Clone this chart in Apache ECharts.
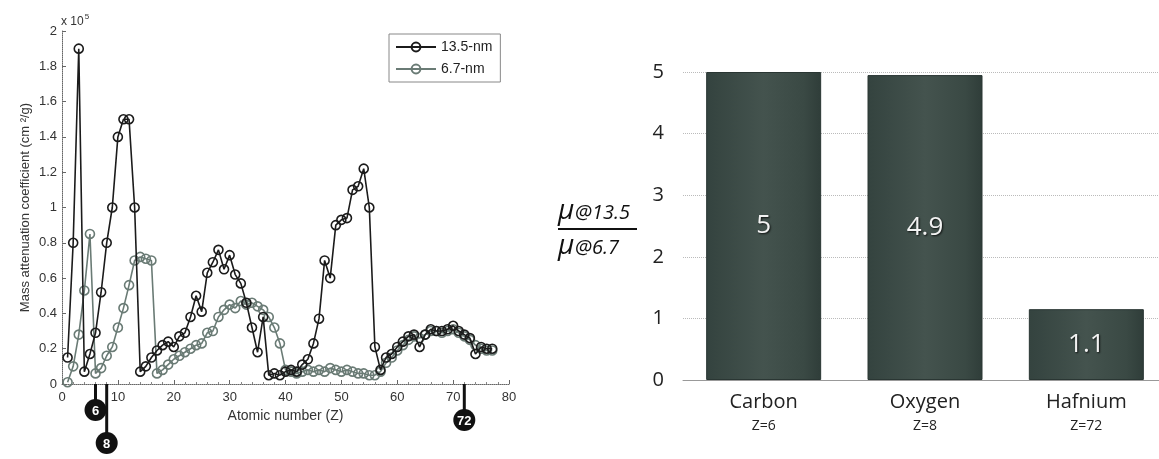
<!DOCTYPE html>
<html>
<head>
<meta charset="utf-8">
<script src="https://cdn.jsdelivr.net/npm/echarts@6/dist/echarts.min.js"></script>
<style>
html,body{margin:0;padding:0;background:#fff;overflow:hidden;}
#chart{width:1175px;height:459px;}
</style>
</head>
<body>
<div id="chart"></div>
<script>
// ---- Data ----
const atomicZ = [1,2,3,4,5,6,7,8,9,10,11,12,13,14,15,16,17,18,19,20,21,22,23,24,25,26,27,28,29,30,31,32,33,34,35,36,37,38,39,40,41,42,43,44,45,46,47,48,49,50,51,52,53,54,55,56,57,58,59,60,61,62,63,64,65,66,67,68,69,70,71,72,73,74,75,76,77];
// mass attenuation coefficient, units of 1e5 cm^2/g
const mu135 = [0.15,0.80,1.90,0.07,0.17,0.29,0.52,0.80,1.00,1.40,1.50,1.50,1.00,0.07,0.10,0.15,0.19,0.22,0.24,0.21,0.27,0.29,0.38,0.50,0.41,0.63,0.69,0.76,0.65,0.73,0.62,0.57,0.46,0.32,0.18,0.38,0.05,0.06,0.05,0.07,0.08,0.07,0.11,0.14,0.23,0.37,0.70,0.60,0.90,0.93,0.94,1.10,1.12,1.22,1.00,0.21,0.08,0.15,0.17,0.21,0.24,0.27,0.28,0.21,0.28,0.31,0.30,0.30,0.31,0.33,0.30,0.28,0.26,0.17,0.21,0.20,0.20];
const mu67 = [0.01,0.10,0.28,0.53,0.85,0.06,0.09,0.16,0.21,0.32,0.43,0.56,0.70,0.72,0.71,0.70,0.06,0.08,0.11,0.14,0.16,0.18,0.20,0.22,0.23,0.29,0.30,0.38,0.42,0.45,0.43,0.47,0.45,0.46,0.44,0.42,0.38,0.32,0.23,0.08,0.07,0.06,0.07,0.08,0.07,0.08,0.07,0.09,0.08,0.07,0.08,0.07,0.06,0.06,0.05,0.05,0.07,0.12,0.15,0.19,0.22,0.25,0.27,0.26,0.28,0.30,0.30,0.29,0.30,0.31,0.29,0.27,0.25,0.22,0.20,0.19,0.19];
const seriesNames = ['13.5-nm','6.7-nm'];
const markerZ = [6, 8, 72];

const elements = ['Carbon','Oxygen','Hafnium'];
const elementZ = ['Z=6','Z=8','Z=72'];
const ratio = [5.0, 4.95, 1.15];
const ratioLabels = ['5','4.9','1.1'];

// ---- Styles (not data) ----
const markerDrop = [26, 59, 36];
const FONT_L = 'Liberation Sans';
const FONT_R = 'Open Sans';

const chart = echarts.init(document.getElementById('chart'), null, {renderer:'canvas'});

const pairs = (xs, ys) => xs.map((x,i)=>[x, ys[i]]);

const option = {
  animation: false,
  backgroundColor: '#fff',
  grid: [
    {left: 62, top: 31, width: 447, height: 353},
    {left: 683, top: 72, width: 484, height: 308}
  ],
  legend: {
    data: seriesNames,
    orient: 'vertical',
    left: 389, top: 34,
    width: 113,
    padding: [6, 8, 6, 6],
    itemGap: 8,
    itemWidth: 40, itemHeight: 11,
    borderColor: '#888', borderWidth: 1,
    textStyle: {fontFamily: FONT_L, fontSize: 14, color: '#222'}
  },
  xAxis: [
    {
      gridIndex: 0, type: 'value', min: 0, max: 80, interval: 10,
      name: 'Atomic number (Z)', nameLocation: 'middle', nameGap: 21,
      nameTextStyle: {fontFamily: FONT_L, fontSize: 14, color: '#333'},
      axisLine: {lineStyle: {color: '#666', type: 'dotted', width: 1}},
      axisTick: {inside: true, length: 4, lineStyle: {color: '#666'}},
      minorTick: {show: true, splitNumber: 5, length: 2, lineStyle: {color: '#888'}},
      axisLabel: {fontFamily: FONT_L, fontSize: 13, color: '#333', margin: 7},
      splitLine: {show: false}
    },
    {
      gridIndex: 1, type: 'category', data: elements,
      axisLine: {lineStyle: {color: '#999', width: 1}},
      axisTick: {show: false},
      axisLabel: {
        margin: 10, interval: 0,
        formatter: (v, i) => '{a|' + v + '}\n{b|' + elementZ[i] + '}',
        rich: {
          a: {fontFamily: FONT_R, fontSize: 20, color: '#222', lineHeight: 25},
          b: {fontFamily: FONT_R, fontSize: 14, color: '#222', lineHeight: 22}
        }
      }
    }
  ],
  yAxis: [
    {
      gridIndex: 0, type: 'value', min: 0, max: 2, interval: 0.2,
      name: 'Mass attenuation coefficient (cm \u00B2/g)', nameLocation: 'middle', nameGap: 30,
      nameTextStyle: {fontFamily: FONT_L, fontSize: 13, color: '#333'},
      axisLine: {show: true, lineStyle: {color: '#666', type: 'dotted', width: 1}},
      axisTick: {show: true, inside: true, length: 4, lineStyle: {color: '#666'}},
      axisLabel: {fontFamily: FONT_L, fontSize: 13, color: '#333', margin: 5},
      splitLine: {show: false}
    },
    {
      gridIndex: 1, type: 'value', min: 0, max: 5, interval: 1,
      axisLine: {show: false}, axisTick: {show: false},
      axisLabel: {fontFamily: FONT_R, fontSize: 20, color: '#222', margin: 19},
      splitLine: {lineStyle: {color: '#bbb', type: 'dotted', width: 1}}
    }
  ],
  series: [
    {
      name: seriesNames[0], type: 'line', xAxisIndex: 0, yAxisIndex: 0,
      data: pairs(atomicZ, mu135),
      symbol: 'circle', symbolSize: 9,
      lineStyle: {color: '#1b1b1b', width: 1.6},
      itemStyle: {color: 'rgba(255,255,255,0)', borderColor: '#1b1b1b', borderWidth: 1.6},
      z: 3
    },
    {
      name: seriesNames[1], type: 'line', xAxisIndex: 0, yAxisIndex: 0,
      data: pairs(atomicZ, mu67),
      symbol: 'circle', symbolSize: 9,
      lineStyle: {color: '#6a7b75', width: 1.6},
      itemStyle: {color: 'rgba(255,255,255,0)', borderColor: '#6a7b75', borderWidth: 1.6},
      z: 2
    },
    {
      type: 'custom', xAxisIndex: 0, yAxisIndex: 0, clip: false, silent: true, z: 10,
      data: markerZ.map(z => [z, 0]),
      renderItem: function (params, api) {
        const p = api.coord([api.value(0), 0]);
        const d = markerDrop[params.dataIndex];
        return {
          type: 'group',
          children: [
            {type: 'line', shape: {x1: p[0], y1: p[1], x2: p[0], y2: p[1] + d}, style: {stroke: '#111', lineWidth: 3}},
            {type: 'circle', shape: {cx: p[0], cy: p[1] + d, r: 11}, style: {fill: '#111'}},
            {type: 'text', style: {text: String(api.value(0)), x: p[0], y: p[1] + d + 1, align: 'center', verticalAlign: 'middle', fill: '#fff', font: 'bold 13px ' + FONT_L}}
          ]
        };
      }
    },
    {
      type: 'bar', xAxisIndex: 1, yAxisIndex: 1,
      data: ratio, barWidth: 115,
      itemStyle: {
        color: new echarts.graphic.LinearGradient(0, 0, 1, 0, [
          {offset: 0, color: '#34433f'},
          {offset: 0.5, color: '#44534e'},
          {offset: 0.85, color: '#3a4944'},
          {offset: 1, color: '#2f3d39'}
        ]),
        borderColor: '#2a3633', borderWidth: 1
      },
      label: {
        show: true, position: 'inside',
        formatter: p => ratioLabels[p.dataIndex],
        fontFamily: FONT_R, fontSize: 26, color: '#f2f2f2',
        textShadowColor: 'rgba(0,0,0,0.8)', textShadowBlur: 2, textShadowOffsetX: 1, textShadowOffsetY: 1
      }
    }
  ],
  graphic: [
    {type: 'text', left: 61, top: 13, style: {
      text: '{a|x 10}{b|5}',
      rich: {a: {fontFamily: FONT_L, fontSize: 12, fill: '#333'}, b: {fontFamily: FONT_L, fontSize: 8, fill: '#333', padding: [0,0,10,1]}}
    }},
    {type: 'text', x: 558, y: 197, style: {text: '\u03BC', font: 'italic 28px ' + FONT_R, fill: '#111'}},
    {type: 'text', x: 575, y: 203, style: {text: '@13.5', font: 'italic 20px ' + FONT_R, fill: '#111'}},
    {type: 'rect', shape: {x: 558, y: 228, width: 79, height: 2}, style: {fill: '#111'}},
    {type: 'text', x: 558, y: 232, style: {text: '\u03BC', font: 'italic 28px ' + FONT_R, fill: '#111'}},
    {type: 'text', x: 575, y: 238, style: {text: '@6.7', font: 'italic 20px ' + FONT_R, fill: '#111'}}
  ]
};
chart.setOption(option);
</script>
</body>
</html>
